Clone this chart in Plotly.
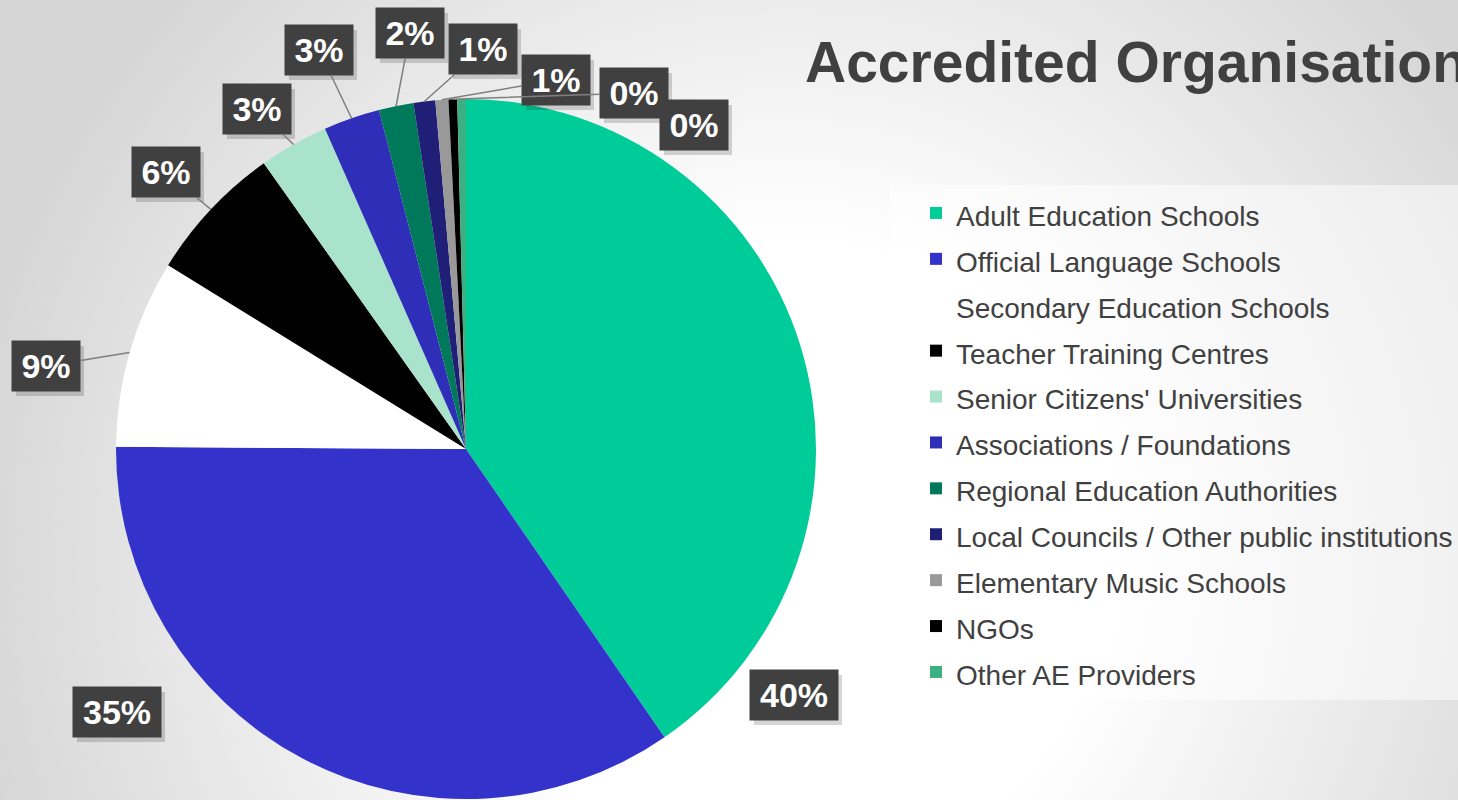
import base64
import math
import plotly.graph_objects as go

# ---------------- data ----------------
categories = [
    "Adult Education Schools",
    "Official Language Schools",
    "Secondary Education Schools",
    "Teacher Training Centres",
    "Senior Citizens' Universities",
    "Associations / Foundations",
    "Regional Education Authorities",
    "Local Councils / Other public institutions",
    "Elementary Music Schools",
    "NGOs",
    "Other AE Providers",
]
shares = [40.4, 34.7, 8.7, 6.4, 3.2, 2.6, 1.6, 1.0, 0.6, 0.4, 0.4]

# ---------------- styles / layout ----------------
colors = ["#00CC99", "#3333CC", "#FFFFFF", "#000000", "#A9E3CB", "#2E2EB8",
          "#00785A", "#1F1F78", "#999999", "#000000", "#3CB084"]

W, H = 1458, 800
CX, CY, R = 466, 449, 350          # pie placement in pixels
# label box centres (pixels) and whether a leader line is shown
label_pos = [(794, 695), (117, 712), (46, 366), (166, 172), (257, 109), (319, 50),
             (410, 33), (483, 49), (556, 80), (634, 93), (694, 125)]
leader = [False, False, True, True, True, True, True, True, True, True, False]

FONT = "Liberation Sans, Arial, sans-serif"
TXT = "#404040"

# background gradient as an SVG image
svg = f"""<svg xmlns='http://www.w3.org/2000/svg' width='{W}' height='{H}'>
<defs><radialGradient id='g' gradientUnits='userSpaceOnUse' cx='790' cy='560' r='830'>
<stop offset='0' stop-color='#ffffff'/><stop offset='0.38' stop-color='#ffffff'/>
<stop offset='1' stop-color='#d6d6d6'/></radialGradient></defs>
<rect width='{W}' height='{H}' fill='url(#g)'/></svg>"""
bg_src = "data:image/svg+xml;base64," + base64.b64encode(svg.encode()).decode()

fig = go.Figure()

fig.add_trace(go.Pie(
    labels=[f"<span style='font-size:28px'>{c}</span>" for c in categories],
    values=shares,
    marker=dict(colors=colors, line=dict(width=0)),
    sort=False,
    direction="clockwise",
    rotation=0,
    textinfo="none",
    hovertemplate="%{label}: %{percent}<extra></extra>",
    domain=dict(x=[(CX - R) / W, (CX + R) / W], y=[1 - (CY + R) / H, 1 - (CY - R) / H]),
))

# invisible trace to create a pixel-based cartesian frame for the labels
fig.add_trace(go.Scatter(x=[None], y=[None], showlegend=False, hoverinfo="skip"))

total = sum(shares)
cum = 0.0
for i, v in enumerate(shares):
    mid = (cum + v / 2) / total * 2 * math.pi
    cum += v
    ex = CX + R * math.sin(mid)
    ey = CY - R * math.cos(mid)
    pct = round(v / total * 100)
    txt = f"<b>{pct}%</b>"
    lx, ly = label_pos[i]
    width = 82 if len(str(pct)) > 1 else 62
    # soft drop shadow behind the label box
    bw, bh = width + 6, 50
    fig.add_shape(type="rect", xref="x", yref="y", layer="above",
                  x0=lx - bw / 2 + 4, x1=lx + bw / 2 + 4,
                  y0=ly - bh / 2 + 5, y1=ly + bh / 2 + 5,
                  fillcolor="rgba(0,0,0,0.16)", line=dict(width=0))
    common = dict(text=txt, xref="x", yref="y", bgcolor="#404040",
                  font=dict(family=FONT, size=34, color="white"),
                  width=width, height=44, borderpad=3, align="center", valign="middle")
    if leader[i]:
        fig.add_annotation(x=ex, y=ey, ax=lx, ay=ly, axref="x", ayref="y",
                           showarrow=True, arrowhead=0, arrowwidth=1.5,
                           arrowcolor="#7f7f7f", standoff=0, **common)
    else:
        fig.add_annotation(x=lx, y=ly, showarrow=False, **common)

fig.update_layout(
    width=W, height=H,
    margin=dict(l=0, r=0, t=0, b=0),
    paper_bgcolor="#ffffff",
    plot_bgcolor="rgba(0,0,0,0)",
    images=[dict(source=bg_src, xref="paper", yref="paper", x=0, y=1,
                 sizex=1, sizey=1, sizing="stretch", layer="below")],
    xaxis=dict(range=[0, W], visible=False, fixedrange=True, domain=[0, 1]),
    yaxis=dict(range=[H, 0], visible=False, fixedrange=True, domain=[0, 1]),
    title=dict(text="Accredited Organisations", x=805 / W, xanchor="left", xref="paper",
               y=1 - 62 / H, yanchor="middle", yref="paper",
               font=dict(family=FONT, size=57, color=TXT, weight="bold")),
    legend=dict(x=890 / W, xanchor="left", y=1 - 185 / H, yanchor="top",
                bgcolor="rgba(255,255,255,0.5)", borderwidth=0, indentation=26,
                font=dict(family=FONT, size=33, color=TXT), tracegroupgap=0),
    showlegend=True,
)

fig.write_html("out.html", config={"displayModeBar": False},
               post_script="document.body.style.margin='0';document.body.style.overflow='hidden';")
